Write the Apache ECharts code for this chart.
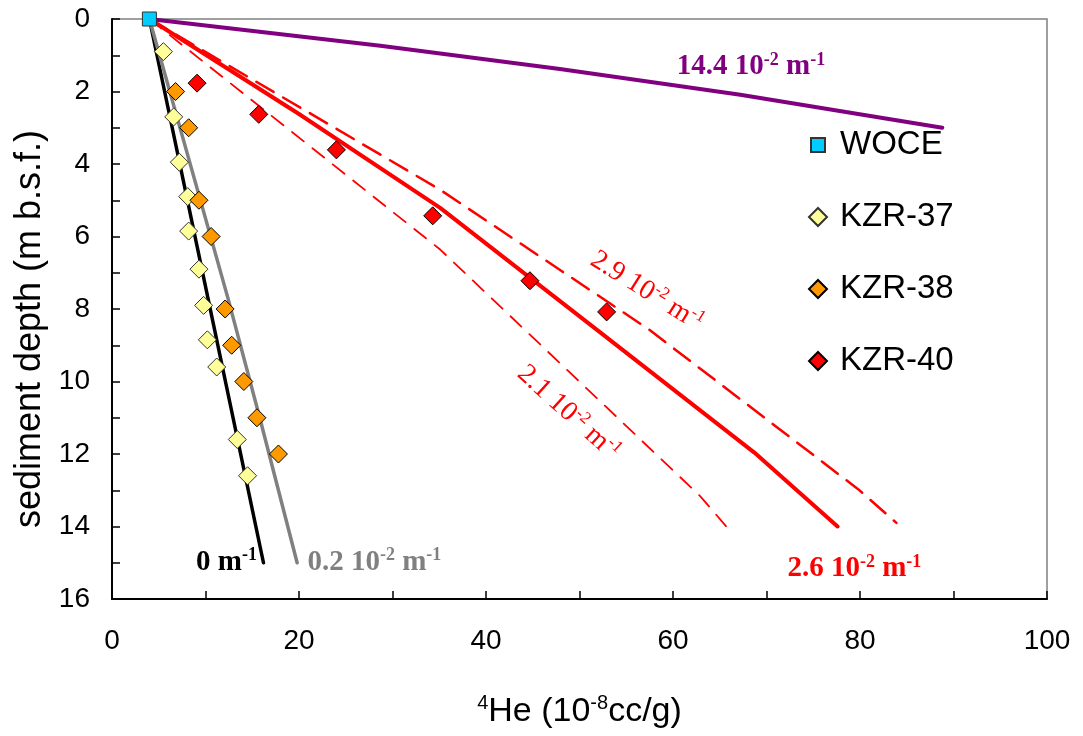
<!DOCTYPE html>
<html>
<head>
<meta charset="utf-8">
<script src="https://cdn.jsdelivr.net/npm/echarts@6/dist/echarts.min.js"></script>
<style>
  html, body { margin: 0; padding: 0; background: #ffffff; }
  #chart { width: 1083px; height: 736px; }
</style>
</head>
<body>
<div id="chart"></div>
<script>
// Measured 4He (10^-8 cc/g) against sediment depth (m b.s.f.)
const wocHe = [4.0];
const wocDepth = [0];
const kzr37He = [5.5, 6.6, 7.2, 8.1, 8.2, 9.3, 9.8, 10.2, 11.2, 13.4, 14.5];
const kzr37Depth = [0.9, 2.7, 3.95, 4.9, 5.85, 6.9, 7.9, 8.85, 9.6, 11.6, 12.6];
const kzr38He = [6.8, 8.2, 9.3, 10.6, 12.1, 12.8, 14.1, 15.5, 17.8];
const kzr38Depth = [2, 3, 5, 6, 8, 9, 10, 11, 12];
const kzr40He = [9.1, 15.7, 24.0, 34.3, 44.7, 52.9];
const kzr40Depth = [1.77, 2.63, 3.61, 5.43, 7.22, 8.08];

// Model profiles for different growth coefficients
const fit144He = [4, 28.7, 47.9, 67.2, 88.8];
const fit144Depth = [0, 0.74, 1.38, 2.09, 3];
const fit0He = [4, 10.1, 16.2];
const fit0Depth = [0, 7.5, 15];
const fit02He = [4, 12.4, 15.8, 19.8];
const fit02Depth = [0, 7.7, 11, 15];
const fit26He = [4, 20, 35.1, 51.8, 68.7, 77.6];
const fit26Depth = [0, 2.62, 5.21, 8.56, 11.96, 14.0];
const fit29He = [4, 35.1, 57.4, 79.8, 83.9];
const fit29Depth = [0, 4.71, 8.56, 12.97, 13.9];
const fit21He = [4, 35.1, 44.5, 62.9, 65.7];
const fit21Depth = [0, 6.36, 8.66, 13.16, 14.0];

// Axis tick labels
const xTickLabels = [0, 20, 40, 60, 80, 100];
const yTickLabels = [0, 2, 4, 6, 8, 10, 12, 14, 16];

const pairs = (xs, ys) => xs.map((x, i) => [x, ys[i]]);

const serif = 'Liberation Serif';
const sans = 'Liberation Sans';
// square legend icon with a transparent margin inside its 18px box
const smallSquareIcon = 'path://M0,0M18,18M2,2L16,2L16,16L2,16Z';

function coefText(value, bold) {
  return bold
    ? '{b|' + value + '}{bs|-2}{b| m}{bs|-1}'
    : '{n|' + value + '}{ns|-2}{n| m}{ns|-1}';
}
function coefZero() { return '{b|0 m}{bs|-1}'; }

function richFor(color) {
  const plain = { color: color, textBorderWidth: 0, textShadowBlur: 0 };
  return {
    b: Object.assign({ fontFamily: serif, fontWeight: 'bold', fontSize: 29, lineHeight: 32 }, plain),
    bs: Object.assign({ fontFamily: serif, fontWeight: 'bold', fontSize: 18, lineHeight: 17, verticalAlign: 'top' }, plain),
    n: Object.assign({ fontFamily: serif, fontSize: 28, lineHeight: 31 }, plain),
    ns: Object.assign({ fontFamily: serif, fontSize: 17, lineHeight: 16, verticalAlign: 'top' }, plain)
  };
}

// Annotation anchors (data coordinates) for the coefficient labels
const notes = [
  { at: [60.4, 1.32], text: coefText('14.4 10', true), color: '#800080', align: 'left', rotate: 0 },
  { at: [15.5, 14.98], text: coefZero(), color: '#000000', align: 'right', rotate: 0 },
  { at: [20.9, 14.98], text: coefText('0.2 10', true), color: '#808080', align: 'left', rotate: 0 },
  { at: [79.4, 15.17], text: coefText('2.6 10', true), color: '#ff0000', align: 'center', rotate: 0 },
  { at: [57.2, 7.51], text: coefText('2.9 10', false), color: '#ff0000', align: 'center', rotate: -32 },
  { at: [48.8, 10.86], text: coefText('2.1 10', false), color: '#ff0000', align: 'center', rotate: -42 }
];

function modelLine(name, xs, ys, color, width, dash) {
  return {
    name: name,
    type: 'line',
    data: pairs(xs, ys),
    symbol: 'none',
    silent: true,
    z: 2,
    lineStyle: { color: color, width: width, type: dash || 'solid', cap: 'round', join: 'round' },
    emphasis: { disabled: true }
  };
}

function markers(name, xs, ys, symbol, size, fill, border) {
  return {
    name: name,
    type: 'scatter',
    data: pairs(xs, ys),
    symbol: symbol,
    symbolSize: size,
    z: 5,
    itemStyle: { color: fill, borderColor: border, borderWidth: 1, opacity: 1 },
    emphasis: { disabled: true }
  };
}

const chart = echarts.init(document.getElementById('chart'), null, { renderer: 'canvas' });

const option = {
  animation: false,
  backgroundColor: '#ffffff',
  grid: {
    left: 112, top: 19, right: 36, bottom: 136,
    show: true, borderColor: '#808080', borderWidth: 1.5, backgroundColor: 'transparent'
  },
  legend: {
    orient: 'vertical',
    left: 803,
    top: 122,
    itemWidth: 18,
    itemHeight: 18,
    itemGap: 36,
    data: [
      { name: 'WOCE', icon: smallSquareIcon },
      { name: 'KZR-37', icon: 'diamond' },
      { name: 'KZR-38', icon: 'diamond' },
      { name: 'KZR-40', icon: 'diamond' }
    ],
    textStyle: { fontFamily: sans, fontSize: 33, lineHeight: 36, color: '#000000', padding: [0, 0, 0, 8] },
    selectedMode: false
  },
  xAxis: {
    type: 'value',
    min: 0, max: 100, interval: 10,
    name: '{sup|4}He (10{sup|-8}cc/g)',
    nameLocation: 'middle',
    nameGap: 94,
    nameTextStyle: {
      fontFamily: sans, fontSize: 34, lineHeight: 38, color: '#000000',
      rich: {
        sup: { fontFamily: sans, fontSize: 20, lineHeight: 20, verticalAlign: 'top', color: '#000000' }
      }
    },
    axisLine: { show: true, onZero: false, lineStyle: { color: '#000000', width: 2 } },
    axisTick: { show: true, inside: true, length: 8, lineStyle: { color: '#000000', width: 1.5 } },
    axisLabel: {
      margin: 28, fontFamily: sans, fontSize: 28, color: '#000000',
      formatter: v => (xTickLabels.indexOf(v) >= 0 ? String(v) : '')
    },
    splitLine: { show: false }
  },
  yAxis: {
    type: 'value',
    inverse: true,
    min: 0, max: 16, interval: 1,
    name: 'sediment depth (m b.s.f.)',
    nameLocation: 'middle',
    nameRotate: 90,
    nameGap: 64,
    nameTextStyle: { fontFamily: sans, fontSize: 36, color: '#000000', padding: [0, 40, 0, 0] },
    axisLine: { show: true, onZero: false, lineStyle: { color: '#000000', width: 2 } },
    axisTick: { show: true, inside: true, length: 8, lineStyle: { color: '#000000', width: 1.5 } },
    axisLabel: {
      margin: 22, fontFamily: sans, fontSize: 28, color: '#000000',
      formatter: v => (yTickLabels.indexOf(v) >= 0 ? String(v) : '')
    },
    splitLine: { show: false }
  },
  series: [
    modelLine('14.4', fit144He, fit144Depth, '#800080', 4),
    modelLine('0', fit0He, fit0Depth, '#000000', 3.5),
    modelLine('0.2', fit02He, fit02Depth, '#808080', 3.5),
    modelLine('2.6', fit26He, fit26Depth, '#ff0000', 4),
    modelLine('2.9', fit29He, fit29Depth, '#ff0000', 2.5, [20, 11]),
    modelLine('2.1', fit21He, fit21Depth, '#ff0000', 1.8, [15, 11]),
    markers('KZR-37', kzr37He, kzr37Depth, 'diamond', 18, '#ffff99', '#333333'),
    markers('KZR-38', kzr38He, kzr38Depth, 'diamond', 18, '#ff9900', '#000000'),
    markers('KZR-40', kzr40He, kzr40Depth, 'diamond', 18, '#ff0000', '#000000'),
    markers('WOCE', wocHe, wocDepth, 'rect', 14, '#00ccff', '#333333'),
    {
      name: 'notes',
      type: 'scatter',
      symbolSize: 0,
      silent: true,
      z: 6,
      itemStyle: { opacity: 1 },
      data: notes.map(n => ({
        value: n.at,
        label: {
          show: true,
          position: 'inside',
          align: n.align,
          verticalAlign: 'middle',
          rotate: n.rotate,
          color: n.color,
          textBorderWidth: 0,
          opacity: 1,
          formatter: n.text,
          rich: richFor(n.color)
        }
      }))
    }
  ]
};

chart.setOption(option);
</script>
</body>
</html>
